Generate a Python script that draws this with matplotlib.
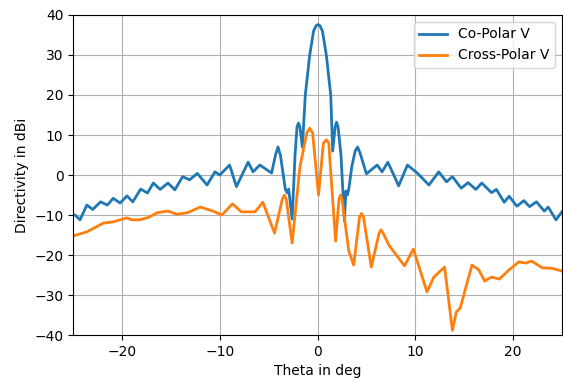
import matplotlib
matplotlib.use("Agg")
import matplotlib.pyplot as plt

# Co-polar V (theta deg, dBi)
co_theta = [-25.0, -24.8, -24.3, -23.6, -23.0, -22.2, -21.5, -20.9, -20.2, -19.5, -18.9,
            -18.1, -17.4, -16.8, -16.1, -15.3, -14.6, -13.8, -13.1, -12.3, -11.3, -10.5,
            -10.0, -9.0, -8.3, -7.1, -6.6, -5.9, -4.7, -4.3, -4.05, -3.8, -3.3, -3.1, -2.95, -2.6,
            -2.3, -2.1, -1.95, -1.8, -1.55, -1.25, -0.8, -0.4, -0.15, 0.05, 0.25, 0.5, 0.9, 1.35,
            1.55, 1.8, 1.95, 2.1, 2.4,
            2.75, 2.9, 3.05, 3.2, 3.5, 3.85, 4.1, 4.35, 5.0, 6.1, 6.6, 7.2, 8.3, 9.2, 10.2, 11.4,
            12.4, 13.2, 13.8, 14.7, 15.4, 16.2, 16.8, 17.8, 18.3, 19.1, 19.6, 20.4,
            21.1, 21.7, 22.4, 23.2, 23.6, 24.4, 25.0]
co_db = [-10.0, -10.0, -11.2, -7.5, -8.6, -6.7, -7.5, -5.8, -7.0, -5.2, -6.7,
         -3.5, -4.5, -2.0, -3.6, -2.0, -3.7, -0.4, -1.2, 0.4, -2.5, 0.8,
         0.0, 2.5, -2.9, 3.2, 0.8, 2.5, 0.5, 5.0, 7.0, 5.0, -3.5, -4.5, -3.5, -11.0,
         5.0, 12.0, 13.0, 12.0, 7.0, 20.0, 30.0, 36.0, 37.3, 37.6, 37.3, 36.0, 30.0, 20.0,
         6.0, 12.0, 13.2, 12.0, 5.0,
         -11.5, -4.0, -5.0, -3.5, 2.0, 6.0, 7.0, 5.5, 0.3, 2.5, 0.8, 3.2, -2.7, 2.5, 0.5, -2.5,
         0.8, -1.7, -0.4, -3.3, -1.9, -3.6, -2.0, -4.4, -3.6, -6.8, -5.3, -7.8,
         -6.4, -7.9, -6.7, -9.0, -8.0, -11.2, -9.2]

# Cross-polar V (theta deg, dBi)
cx_theta = [-25.0, -23.6, -21.9, -20.9, -20.2, -19.5, -19.0, -18.2, -17.3, -16.4, -15.3,
            -14.4, -13.3, -12.0, -10.7, -9.8, -8.7, -7.8, -6.4, -5.6, -4.4, -3.6, -3.4, -3.2,
            -2.6, -1.8, -1.1, -0.8, -0.5, 0.1, 0.6, 0.9, 1.15, 1.5, 1.85, 2.2, 2.35, 2.5,
            3.2, 3.7, 4.3, 4.5, 4.7, 5.5, 6.3, 6.5, 6.7, 7.3, 8.9,
            9.8, 11.2, 11.9, 13.0, 13.8, 14.2, 14.6, 15.8, 16.5, 17.1, 17.8, 18.6,
            19.6, 20.6, 21.3, 21.9, 23.0, 24.0, 25.0]
cx_db = [-15.2, -14.2, -12.0, -11.7, -11.2, -10.7, -11.2, -11.2, -10.6, -9.4, -9.0,
         -9.8, -9.4, -8.0, -9.0, -10.0, -7.2, -9.2, -9.2, -6.8, -14.5, -6.0, -5.0, -6.0,
         -17.0, 2.0, 10.5, 11.7, 10.5, -5.0, 8.0, 8.8, 8.0, -4.5, -16.5, -6.0, -5.0, -6.0,
         -19.0, -22.5, -10.5, -9.6, -10.5, -23.0, -14.5, -13.7, -14.5, -17.5, -22.7,
         -18.5, -29.2, -25.5, -23.0, -38.8, -34.2, -33.2, -22.5, -23.7, -26.5, -25.5, -26.0,
         -23.7, -21.7, -22.0, -21.5, -23.2, -23.3, -24.0]

fig = plt.figure(figsize=(5.63, 3.83), dpi=100)
ax = fig.add_axes([0.13, 0.125, 0.868, 0.836])
ax.plot(co_theta, co_db, color="#1f77b4", lw=2, label="Co-Polar V")
ax.plot(cx_theta, cx_db, color="#ff7f0e", lw=2, label="Cross-Polar V")
ax.set_xlim(-25, 25)
ax.set_ylim(-40, 40)
ax.set_xticks([-20, -10, 0, 10, 20])
ax.set_yticks(range(-40, 41, 10))
ax.grid(True, color="#b0b0b0", lw=0.8)
ax.set_xlabel("Theta in deg")
ax.set_ylabel("Directivity in dBi")
ax.legend(loc="upper right")
fig.savefig("out.png", dpi=100)
